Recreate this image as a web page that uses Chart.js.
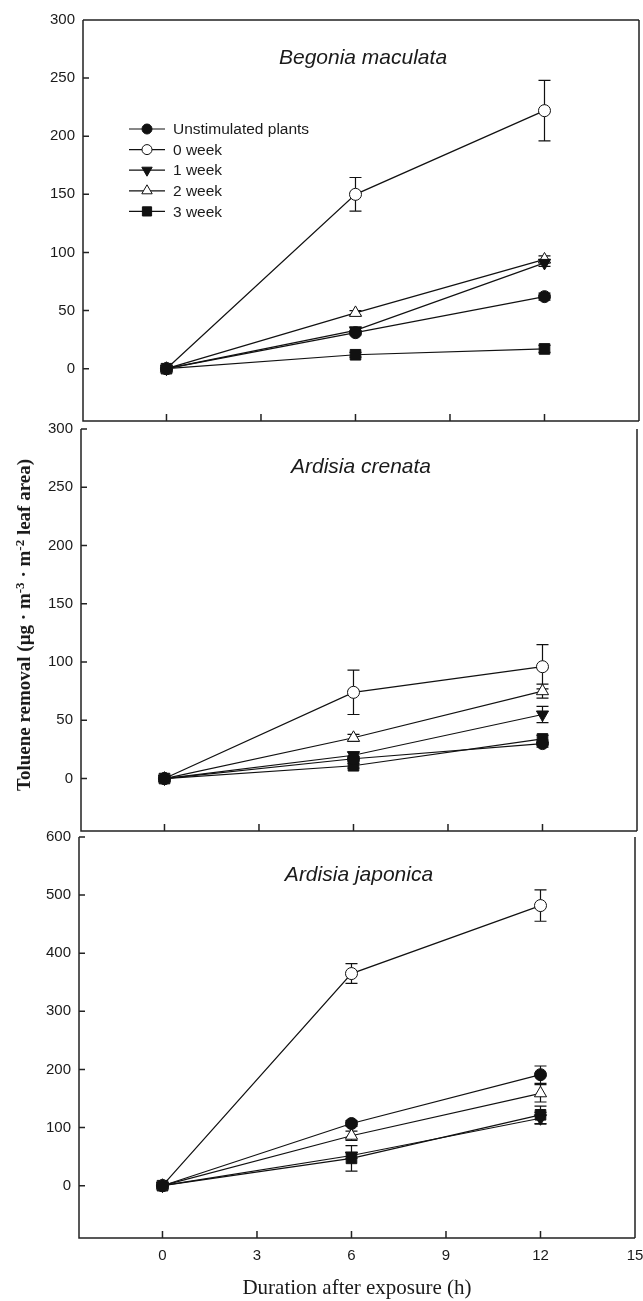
<!DOCTYPE html>
<html>
<head>
<meta charset="utf-8">
<script src="https://cdn.jsdelivr.net/npm/chart.js@4.4.1/dist/chart.umd.min.js"></script>
<style>
  body { margin: 0; background: #fff; width: 643px; height: 1301px; position: relative; overflow: hidden; }
  canvas { position: absolute; left: 0; }
  #ytitle {
    position: absolute; left: 24px; top: 625px;
    transform: translate(-50%, -50%) rotate(-90deg);
    white-space: nowrap; font: bold 19px 'Liberation Serif'; color: #1a1a1a;
  }
  #ytitle sup { font-size: 13px; line-height: 0; vertical-align: 0.45em; }
</style>
</head>
<body>
<canvas id="c1" width="643" height="425" style="top:0px"></canvas>
<canvas id="c2" width="643" height="420" style="top:415px"></canvas>
<canvas id="c3" width="643" height="479" style="top:822px"></canvas>
<div id="ytitle">Toluene removal (µg · m<sup>-3</sup> · m<sup>-2</sup> leaf area)</div>
<script>
const hours = [0, 6, 12];
const seriesNames = ['Unstimulated plants', '0 week', '1 week', '2 week', '3 week'];
const xTicks = [0, 3, 6, 9, 12, 15];
const yTicks300 = [0, 50, 100, 150, 200, 250, 300];
const yTicks600 = [0, 100, 200, 300, 400, 500, 600];

// Begonia maculata
const begUnstim = [0, 31, 62];
const beg0wk = [0, 150, 222];
const beg1wk = [0, 33, 91];
const beg2wk = [0, 48, 94];
const beg3wk = [0, 12, 17];
const begErr0wk = [0, 14.5, 26];
const begErrOther = [0, 2, 3];

// Ardisia crenata
const creUnstim = [0, 17, 30];
const cre0wk = [0, 74, 96];
const cre1wk = [0, 20, 55];
const cre2wk = [0, 35, 75];
const cre3wk = [0, 11, 34];
const creErr0wk = [0, 19, 19];
const creErr1wk = [0, 3, 7];
const creErr2wk = [0, 3, 6];
const creErrSmall = [0, 2, 3];

// Ardisia japonica
const japUnstim = [0, 107, 191];
const jap0wk = [0, 365, 482];
const jap1wk = [0, 52, 116];
const jap2wk = [0, 86, 159];
const jap3wk = [0, 47, 122];
const japErrUnstim = [0, 5, 15];
const japErr0wk = [0, 17, 27];
const japErr1wk = [0, 5, 10];
const japErr2wk = [0, 8, 15];
const japErr3wk = [0, 22, 15];

const markers = [
  { pointStyle: 'circle', fill: '#111', radius: 6, rotation: 0 },
  { pointStyle: 'circle', fill: '#fff', radius: 6, rotation: 0 },
  { pointStyle: 'triangle', fill: '#111', radius: 7, rotation: 180 },
  { pointStyle: 'triangle', fill: '#fff', radius: 7, rotation: 0 },
  { pointStyle: 'rect', fill: '#111', radius: 7.5, rotation: 0 }
];

const panelPlugin = {
  id: 'panel',
  beforeDatasetsDraw(chart, args, opts) {
    const { ctx } = chart;
    const xs = chart.scales.x, ys = chart.scales.y;
    ctx.save();
    ctx.strokeStyle = '#111';
    ctx.lineWidth = 1.2;
    opts.errors.forEach((errs, i) => {
      const vals = chart.data.datasets[i].data;
      errs.forEach((e, j) => {
        if (!e) return;
        const px = xs.getPixelForValue(vals[j].x);
        const top = ys.getPixelForValue(vals[j].y + e);
        const bot = ys.getPixelForValue(vals[j].y - e);
        ctx.beginPath();
        ctx.moveTo(px, top); ctx.lineTo(px, bot);
        ctx.moveTo(px - 6, top); ctx.lineTo(px + 6, top);
        ctx.moveTo(px - 6, bot); ctx.lineTo(px + 6, bot);
        ctx.stroke();
      });
    });
    ctx.restore();
  },
  afterDraw(chart, args, opts) {
    const { ctx, chartArea: a } = chart;
    const xs = chart.scales.x, ys = chart.scales.y;
    ctx.save();
    ctx.strokeStyle = '#222';
    ctx.lineWidth = 1.5;
    ctx.beginPath();
    if (opts.topBorder) {
      ctx.moveTo(a.left, a.top); ctx.lineTo(a.right, a.top);
    }
    ctx.moveTo(a.left, a.top); ctx.lineTo(a.left, a.bottom);
    ctx.lineTo(a.right, a.bottom);
    ctx.moveTo(a.right, a.bottom); ctx.lineTo(a.right, a.top);
    // inward ticks
    opts.yTicks.forEach(v => {
      const py = ys.getPixelForValue(v);
      ctx.moveTo(a.left, py); ctx.lineTo(a.left + 6, py);
    });
    xTicks.forEach(v => {
      const px = xs.getPixelForValue(v);
      if (px >= a.right - 1) return;
      ctx.moveTo(px, a.bottom); ctx.lineTo(px, a.bottom - 7);
    });
    ctx.stroke();

    ctx.fillStyle = '#1a1a1a';
    ctx.font = 'italic 21px "Liberation Sans"';
    ctx.textAlign = 'center';
    ctx.textBaseline = 'middle';
    ctx.fillText(opts.title, a.left + 280, a.top + 38);

    if (opts.legend) {
      ctx.font = '15.5px "Liberation Sans"';
      ctx.textAlign = 'left';
      seriesNames.forEach((name, i) => {
        const yy = 129 + i * 20.6;
        ctx.strokeStyle = '#111';
        ctx.lineWidth = 1.2;
        ctx.beginPath();
        ctx.moveTo(129, yy); ctx.lineTo(165, yy);
        ctx.stroke();
        const m = markers[i];
        ctx.fillStyle = m.fill;
        ctx.strokeStyle = '#111';
        ctx.lineWidth = 1;
        Chart.helpers.drawPoint(ctx, {
          pointStyle: m.pointStyle, rotation: m.rotation,
          radius: m.radius - 1, borderWidth: 1
        }, 147, yy);
        ctx.fillStyle = '#1a1a1a';
        ctx.fillText(name, 173, yy + 1);
      });
    }
    ctx.restore();
  }
};

function buildDatasets(seriesList) {
  return seriesList.map((vals, i) => ({
    label: seriesNames[i],
    data: hours.map((h, j) => ({ x: h, y: vals[j] })),
    borderColor: '#111',
    borderWidth: 1.2,
    pointStyle: markers[i].pointStyle,
    pointRotation: markers[i].rotation,
    pointRadius: markers[i].radius,
    pointBackgroundColor: markers[i].fill,
    pointBorderColor: '#111',
    pointBorderWidth: 1,
    tension: 0
  }));
}

function makePanel(id, seriesList, errors, yMin, yMax, yTicks, cfg) {
  const tickFont = { family: 'Liberation Sans', size: 15 };
  new Chart(document.getElementById(id), {
    type: 'line',
    data: { datasets: buildDatasets(seriesList) },
    options: {
      responsive: false,
      animation: false,
      layout: { autoPadding: false, padding: { left: 0, top: cfg.padTop, right: cfg.padRight, bottom: 0 } },
      plugins: {
        legend: { display: false },
        tooltip: { enabled: false },
        panel: { title: cfg.title, legend: cfg.legend, topBorder: cfg.topBorder, errors: errors, yTicks: yTicks }
      },
      scales: {
        x: {
          type: 'linear', min: -2.65, max: 15,
          grid: { display: false, drawTicks: false },
          border: { display: false },
          ticks: { display: cfg.showX, padding: 9, font: tickFont, color: '#1a1a1a', maxRotation: 0, autoSkip: false },
          afterBuildTicks: s => { s.ticks = xTicks.map(v => ({ value: v })); },
          afterFit: s => { s.height = cfg.xHeight; s.paddingLeft = 0; s.paddingRight = 0; },
          title: {
            display: cfg.showX, text: 'Duration after exposure (h)',
            font: { family: 'Liberation Serif', size: 21 }, color: '#1a1a1a',
            padding: { top: 0, bottom: 0 }
          }
        },
        y: {
          min: yMin, max: yMax,
          grid: { display: false, drawTicks: false },
          border: { display: false },
          ticks: { padding: 8, font: tickFont, color: '#1a1a1a' },
          afterBuildTicks: s => { s.ticks = yTicks.map(v => ({ value: v })); },
          afterFit: s => { s.width = cfg.left; s.paddingTop = 0; s.paddingBottom = 0; }
        }
      }
    },
    plugins: [panelPlugin]
  });
}

makePanel('c1',
  [begUnstim, beg0wk, beg1wk, beg2wk, beg3wk],
  [begErrOther, begErr0wk, begErrOther, begErrOther, begErrOther],
  -45, 300, yTicks300,
  { title: 'Begonia maculata', legend: true, topBorder: true, showX: false,
    padTop: 20, padRight: 4, left: 83, xHeight: 4 });

makePanel('c2',
  [creUnstim, cre0wk, cre1wk, cre2wk, cre3wk],
  [creErrSmall, creErr0wk, creErr1wk, creErr2wk, creErrSmall],
  -45, 300, yTicks300,
  { title: 'Ardisia crenata', legend: false, topBorder: false, showX: false,
    padTop: 14, padRight: 6, left: 81, xHeight: 4 });

makePanel('c3',
  [japUnstim, jap0wk, jap1wk, jap2wk, jap3wk],
  [japErrUnstim, japErr0wk, japErr1wk, japErr2wk, japErr3wk],
  -90, 600, yTicks600,
  { title: 'Ardisia japonica', legend: false, topBorder: false, showX: true,
    padTop: 15, padRight: 8, left: 79, xHeight: 63 });
</script>
</body>
</html>
